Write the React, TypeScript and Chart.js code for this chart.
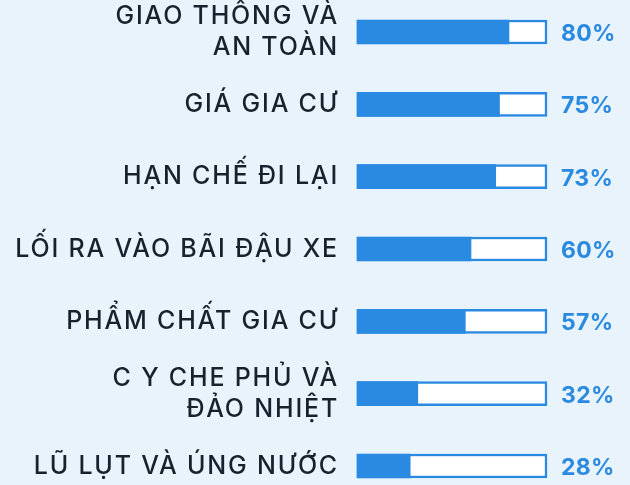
import React, { useEffect, useRef } from "react";
import { Chart, registerables } from "chart.js";

Chart.register(...registerables);

const categories: (string | string[])[] = [
  ["GIAO THÔNG VÀ", "AN TOÀN"],
  "GIÁ GIA CƯ",
  "HẠN CHẾ ĐI LẠI",
  "LỐI RA VÀO BÃI ĐẬU XE",
  "PHẨM CHẤT GIA CƯ",
  ["C Y CHE PHỦ VÀ", "ĐẢO NHIỆT"],
  "LŨ LỤT VÀ ÚNG NƯỚC",
];
const values = [80, 75, 73, 60, 57, 32, 28];
const fullScale = [100, 100, 100, 100, 100, 100, 100];

const BLUE = "#2a8ae2";
const BG = "#e8f3fc";
const TEXT = "#18222f";
const LS = "1.8px";

const spacing = {
  id: "spacing",
  beforeUpdate(chart: any) {
    chart.ctx.letterSpacing = LS;
  },
  beforeDraw(chart: any) {
    chart.ctx.letterSpacing = LS;
  },
};

const valueLabels = {
  id: "valueLabels",
  afterDatasetsDraw(chart: any) {
    const { ctx, scales } = chart;
    const xs = scales.x;
    const ys = scales.y;
    ctx.save();
    ctx.letterSpacing = "0.3px";
    ctx.font = "bold 23px Inter";
    ctx.fillStyle = BLUE;
    ctx.textAlign = "left";
    ctx.textBaseline = "middle";
    values.forEach((v, i) => {
      const x = xs.getPixelForValue(100) + 14;
      const y = ys.getPixelForValue(i) + 2;
      ctx.fillText(v + "%", x, y);
    });
    ctx.restore();
  },
};

export default function App() {
  const ref = useRef<HTMLCanvasElement>(null);
  useEffect(() => {
    if (!ref.current) return;
    const chart = new Chart(ref.current, {
      type: "bar",
      data: {
        labels: categories,
        datasets: [
          {
            data: values,
            backgroundColor: BLUE,
            borderWidth: 0,
            barThickness: 24,
            grouped: false,
            order: 1,
            clip: false as any,
          } as any,
          {
            data: fullScale,
            backgroundColor: "#ffffff",
            borderColor: BLUE,
            borderWidth: 2.5,
            borderSkipped: false,
            barThickness: 24,
            grouped: false,
            order: 2,
            clip: false as any,
          } as any,
        ],
      },
      options: {
        indexAxis: "y",
        animation: false,
        responsive: false,
        maintainAspectRatio: false,
        layout: { padding: { top: 32, bottom: 19, right: 83, left: 0 } },
        plugins: { legend: { display: false }, tooltip: { enabled: false } },
        scales: {
          x: { min: 0, max: 100, display: false },
          y: {
            offset: false,
            grid: { display: false, drawTicks: false },
            border: { display: false },
            afterFit: (s: any) => {
              s.width = 357;
              s.paddingTop = 0;
              s.paddingBottom = 0;
            },
            ticks: {
              padding: 18,
              color: TEXT,
              font: { family: "Inter", size: 25, weight: 500 as any, lineHeight: 1.24 },
            },
          },
        },
      },
      plugins: [spacing, valueLabels],
    });
    return () => chart.destroy();
  }, []);
  return (
    <div style={{ position: "absolute", left: 0, top: 0, width: 630, height: 485, background: BG }}>
      <canvas ref={ref} width={630} height={485} />
    </div>
  );
}
